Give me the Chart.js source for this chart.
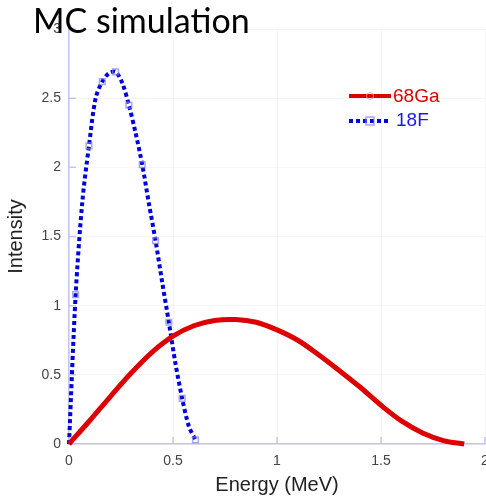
<!DOCTYPE html>
<html>
<head>
<meta charset="utf-8">
<script src="https://cdn.jsdelivr.net/npm/chart.js@4.4.1/dist/chart.umd.min.js"></script>
<style>
    html, body { margin: 0; padding: 0; background: #fff; overflow: hidden; }
    #wrap { position: relative; width: 500px; height: 499px; }
    #title {
        position: absolute; left: 33px; top: 0px;
        font-family: Lato, "Open Sans", sans-serif; font-size: 34px;
        color: #000; line-height: 40px; white-space: nowrap;
    }
</style>
</head>
<body>
<div id="wrap">
    <canvas id="spectrum_chart" width="500" height="499"></canvas>
    <div id="title">MC simulation</div>
</div>
<script>
// 68Ga spectrum
var ga_energy = [0, 0.1, 0.2, 0.3, 0.4, 0.5, 0.6, 0.7, 0.8, 0.9, 1.0, 1.1, 1.2, 1.3, 1.4, 1.5, 1.6, 1.7, 1.8, 1.9];
var ga_intensity = [0, 0.17, 0.345, 0.515, 0.665, 0.78, 0.855, 0.893, 0.9, 0.88, 0.825, 0.75, 0.645, 0.53, 0.41, 0.28, 0.165, 0.08, 0.025, 0];

// 18F spectrum
var f_energy = [0, 0.032, 0.064, 0.096, 0.128, 0.16, 0.192, 0.224, 0.256, 0.288, 0.32, 0.352, 0.384, 0.416, 0.448, 0.48, 0.512, 0.544, 0.576, 0.608];
var f_intensity = [0, 1.08, 1.75, 2.155, 2.5, 2.62, 2.68, 2.69, 2.61, 2.45, 2.25, 2.02, 1.74, 1.47, 1.17, 0.88, 0.58, 0.33, 0.13, 0.03];

var x_ticks = [0, 0.5, 1, 1.5, 2];
var y_ticks = [0, 0.5, 1, 1.5, 2, 2.5, 3];

var axis_color = "#c4c4f2";

function to_points(xs, ys) {
    let pts = [];
    for (let i = 0; i < xs.length; i++) {
        pts.push({ x: xs[i], y: ys[i] });
    }
    return pts;
}

// open square marker on every other 18F point
var f_marker_radius = f_energy.map((e, i) => (i % 2 == 1 ? 4 : 0));

/*
############################## Plugins ##############################
*/
var inner_ticks = {
    id: "inner_ticks",
    beforeDatasetsDraw(chart) {
        let ctx = chart.ctx;
        let area = chart.chartArea;
        let xs = chart.scales.x;
        let ys = chart.scales.y;
        ctx.save();
        ctx.strokeStyle = axis_color;
        ctx.lineWidth = 1.5;
        ctx.beginPath();
        x_ticks.forEach(v => {
            let px = xs.getPixelForValue(v);
            ctx.moveTo(px, area.bottom);
            ctx.lineTo(px, area.bottom - 7);
        });
        y_ticks.forEach(v => {
            let py = ys.getPixelForValue(v);
            ctx.moveTo(area.left, py);
            ctx.lineTo(area.left + 7, py);
        });
        ctx.stroke();
        ctx.restore();
    }
};

var side_legend = {
    id: "side_legend",
    afterDraw(chart) {
        let ctx = chart.ctx;
        ctx.save();
        // 68Ga
        ctx.strokeStyle = "#dd0000";
        ctx.lineWidth = 4;
        ctx.beginPath();
        ctx.moveTo(349, 96);
        ctx.lineTo(391, 96);
        ctx.stroke();
        ctx.strokeStyle = "rgba(255,160,160,0.8)";
        ctx.lineWidth = 1;
        ctx.beginPath();
        ctx.arc(370, 96, 3.5, 0, Math.PI * 2);
        ctx.stroke();
        ctx.font = "19px Arial, 'Liberation Sans', sans-serif";
        ctx.textBaseline = "middle";
        ctx.fillStyle = "#e00000";
        ctx.fillText("68Ga", 393, 97);
        // 18F
        ctx.strokeStyle = "#0000dd";
        ctx.lineWidth = 4;
        ctx.setLineDash([4, 3]);
        ctx.beginPath();
        ctx.moveTo(349, 121);
        ctx.lineTo(391, 121);
        ctx.stroke();
        ctx.setLineDash([]);
        ctx.strokeStyle = "rgba(130,130,230,0.7)";
        ctx.lineWidth = 1.5;
        ctx.strokeRect(366, 117, 8, 8);
        ctx.fillStyle = "#1a1ae0";
        ctx.fillText("18F", 396, 121);
        ctx.restore();
    }
};

/*
############################## Chart ##############################
*/
function draw_spectrum_chart() {
    var ctx = document.getElementById("spectrum_chart");
    return new Chart(ctx, {
        type: "line",
        data: {
            datasets: [
                {
                    label: "68Ga",
                    data: to_points(ga_energy, ga_intensity),
                    borderColor: "#dd0000",
                    borderWidth: 5,
                    pointRadius: 0,
                    tension: 0.35,
                    clip: false
                },
                {
                    label: "18F",
                    data: to_points(f_energy, f_intensity),
                    borderColor: "#0000dd",
                    borderWidth: 4,
                    borderDash: [4, 3],
                    pointStyle: "rect",
                    pointRadius: f_marker_radius,
                    pointBorderColor: "rgba(130,130,230,0.7)",
                    pointBackgroundColor: "rgba(0,0,0,0)",
                    pointBorderWidth: 1.5,
                    tension: 0.3,
                    clip: false
                }
            ]
        },
        options: {
            responsive: false,
            animation: false,
            layout: {
                padding: { top: 29, right: 15, bottom: 0, left: 0 }
            },
            plugins: {
                legend: { display: false },
                tooltip: { enabled: false }
            },
            scales: {
                x: {
                    type: "linear",
                    min: 0,
                    max: 2,
                    afterFit: scale => { scale.height = 55; },
                    afterBuildTicks: scale => { scale.ticks = x_ticks.map(v => ({ value: v })); },
                    grid: { color: "rgba(0,0,0,0.04)", drawTicks: false },
                    border: { color: axis_color, width: 1.5 },
                    ticks: {
                        padding: 9,
                        color: "#444",
                        callback: v => String(v),
                        font: { family: "Arial, 'Liberation Sans', sans-serif", size: 14 }
                    },
                    title: {
                        display: true,
                        text: "Energy (MeV)",
                        color: "#222",
                        padding: { top: 0, bottom: 2 },
                        font: { family: "Arial, 'Liberation Sans', sans-serif", size: 20 }
                    }
                },
                y: {
                    type: "linear",
                    min: 0,
                    max: 3,
                    afterFit: scale => { scale.width = 69; },
                    afterBuildTicks: scale => { scale.ticks = y_ticks.map(v => ({ value: v })); },
                    grid: { color: "rgba(0,0,0,0.04)", drawTicks: false },
                    border: { color: axis_color, width: 1.5 },
                    ticks: {
                        padding: 8,
                        color: "#444",
                        callback: v => String(v),
                        font: { family: "Arial, 'Liberation Sans', sans-serif", size: 14 }
                    },
                    title: {
                        display: true,
                        text: "Intensity",
                        color: "#222",
                        padding: { top: 4, bottom: 0 },
                        font: { family: "Arial, 'Liberation Sans', sans-serif", size: 20 }
                    }
                }
            }
        },
        plugins: [inner_ticks, side_legend]
    });
}

var spectrum_chart = draw_spectrum_chart();
</script>
</body>
</html>
